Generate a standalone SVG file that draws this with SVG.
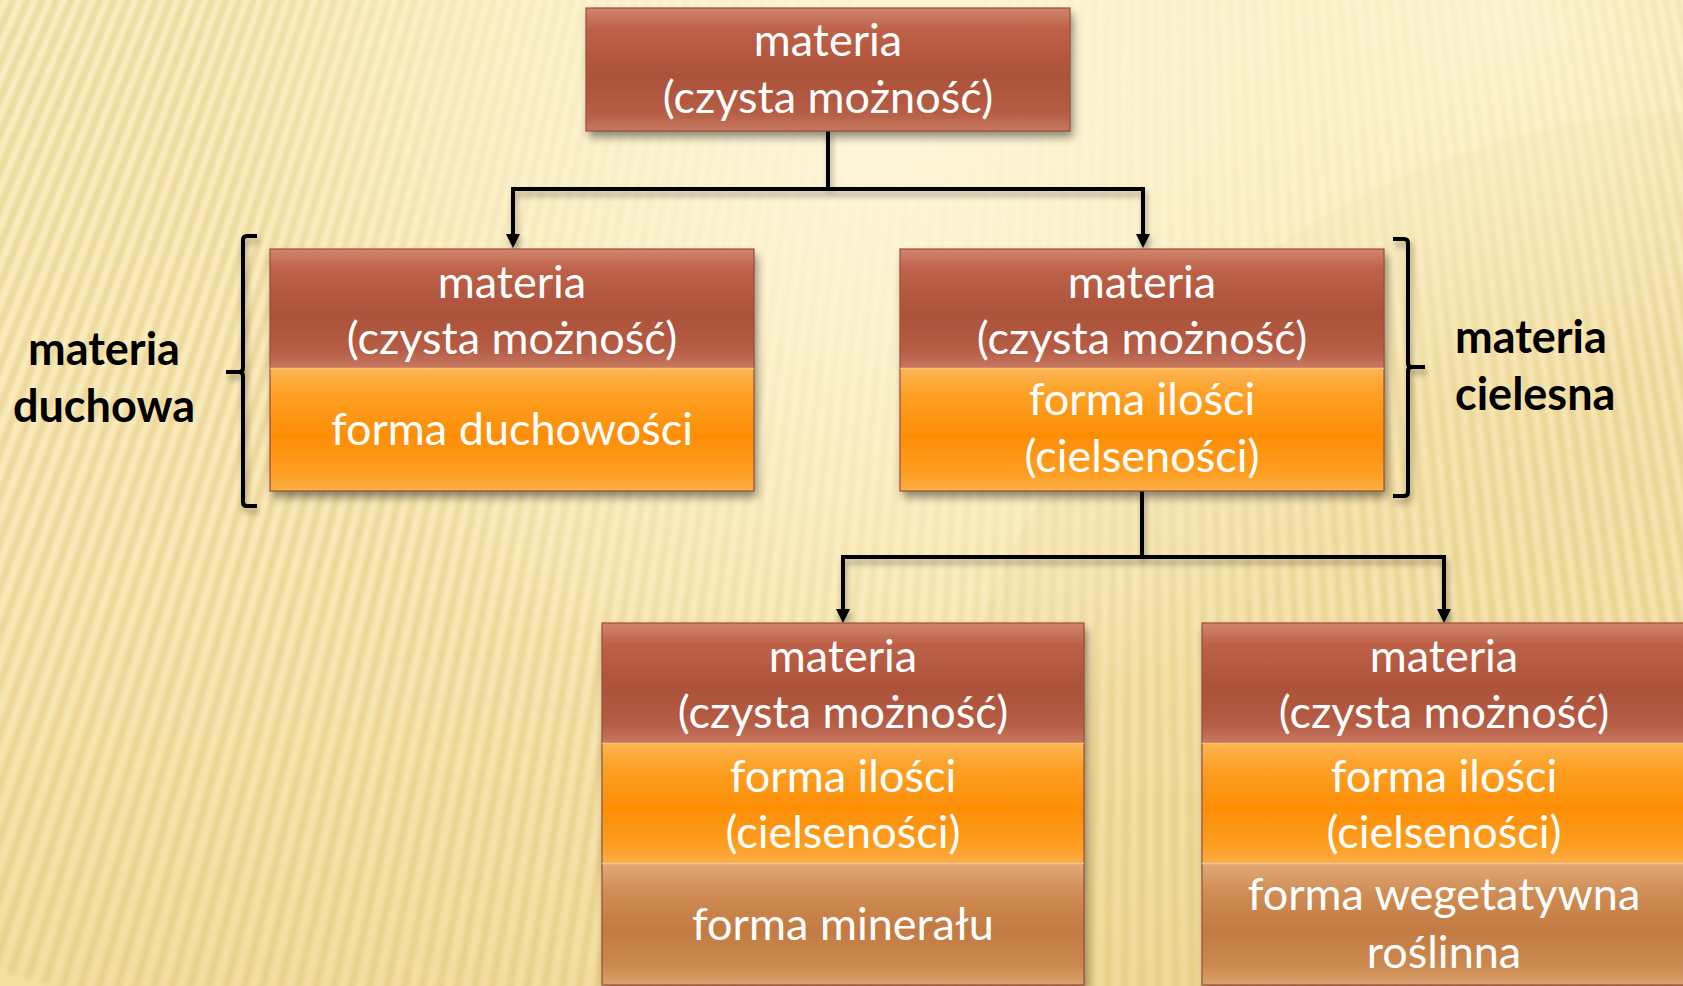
<svg xmlns="http://www.w3.org/2000/svg" xmlns:xlink="http://www.w3.org/1999/xlink" width="1683" height="986" viewBox="0 0 1683 986">
  <style>
    .lbl { font-family: Lato, "Open Sans", "Liberation Sans", sans-serif; font-size: 45px; fill: #ffffff; text-anchor: middle; }
    .side { font-family: Lato, "Open Sans", "Liberation Sans", sans-serif; font-size: 45px; font-weight: bold; fill: #000000; }
    .edge { fill: none; stroke: #000000; stroke-width: 4; }
    .brace { fill: none; stroke: #000000; stroke-width: 4; stroke-linejoin: round; stroke-linecap: butt; }
    .outline { fill: none; stroke: #9c4e39; stroke-width: 1.2; }
    .stripe { stroke: #dcbf72; stroke-width: 7; }
  </style>
  <defs>
    <!-- background -->
    <linearGradient id="bgBase" x1="0" y1="0" x2="0" y2="1">
      <stop offset="0" stop-color="#fdf1c6"/>
      <stop offset="0.6" stop-color="#faeab8"/>
      <stop offset="1" stop-color="#f4dea0"/>
    </linearGradient>
    <radialGradient id="glow" cx="880" cy="120" r="620" gradientUnits="userSpaceOnUse">
      <stop offset="0" stop-color="#fff9e0" stop-opacity="0.8"/>
      <stop offset="1" stop-color="#fff9e0" stop-opacity="0"/>
    </radialGradient>
    <radialGradient id="glowRight" cx="1500" cy="20" r="380" gradientUnits="userSpaceOnUse">
      <stop offset="0" stop-color="#fff7d8" stop-opacity="0.7"/>
      <stop offset="1" stop-color="#fff7d8" stop-opacity="0"/>
    </radialGradient>
    <radialGradient id="stripeFade" cx="950" cy="60" r="760" gradientUnits="userSpaceOnUse">
      <stop offset="0" stop-color="#ffffff" stop-opacity="0.2"/>
      <stop offset="0.6" stop-color="#ffffff" stop-opacity="0.6"/>
      <stop offset="1" stop-color="#ffffff" stop-opacity="1"/>
    </radialGradient>
    <mask id="stripeMask" maskUnits="userSpaceOnUse" x="0" y="0" width="1683" height="986">
      <rect width="1683" height="986" fill="url(#stripeFade)"/>
    </mask>
    <filter id="soft" x="-5%" y="-5%" width="110%" height="110%">
      <feGaussianBlur stdDeviation="2.2"/>
    </filter>

    <!-- fan of stripes built by doubling -->
    <g id="f0"><line class="stripe" x1="1150" y1="-2600" x2="1150" y2="1150"/></g>
    <g id="f1"><use xlink:href="#f0"/><use xlink:href="#f0" transform="rotate(0.27 1150 -2600)"/></g>
    <g id="f2"><use xlink:href="#f1"/><use xlink:href="#f1" transform="rotate(0.54 1150 -2600)"/></g>
    <g id="f3"><use xlink:href="#f2"/><use xlink:href="#f2" transform="rotate(1.08 1150 -2600)"/></g>
    <g id="f4"><use xlink:href="#f3"/><use xlink:href="#f3" transform="rotate(2.16 1150 -2600)"/></g>
    <g id="f5"><use xlink:href="#f4"/><use xlink:href="#f4" transform="rotate(4.32 1150 -2600)"/></g>
    <g id="f6"><use xlink:href="#f5"/><use xlink:href="#f5" transform="rotate(8.64 1150 -2600)"/></g>
    <g id="f7"><use xlink:href="#f6"/><use xlink:href="#f6" transform="rotate(17.28 1150 -2600)"/></g>
    <g id="f8"><use xlink:href="#f7"/><use xlink:href="#f7" transform="rotate(34.56 1150 -2600)"/></g>

    <!-- box fills -->
    <linearGradient id="gMaroon" x1="0" y1="0" x2="0" y2="1">
      <stop offset="0" stop-color="#d2856f"/>
      <stop offset="0.18" stop-color="#bd6148"/>
      <stop offset="0.55" stop-color="#ac523a"/>
      <stop offset="0.85" stop-color="#b65d45"/>
      <stop offset="1" stop-color="#c77862"/>
    </linearGradient>
    <linearGradient id="gOrange" x1="0" y1="0" x2="0" y2="1">
      <stop offset="0" stop-color="#fdb656"/>
      <stop offset="0.2" stop-color="#fda126"/>
      <stop offset="0.55" stop-color="#fd8e05"/>
      <stop offset="0.85" stop-color="#fd9e20"/>
      <stop offset="1" stop-color="#fdae45"/>
    </linearGradient>
    <linearGradient id="gTan" x1="0" y1="0" x2="0" y2="1">
      <stop offset="0" stop-color="#e2a977"/>
      <stop offset="0.25" stop-color="#cf8c53"/>
      <stop offset="0.55" stop-color="#c27b42"/>
      <stop offset="0.85" stop-color="#cb8a51"/>
      <stop offset="1" stop-color="#daa26e"/>
    </linearGradient>

    <filter id="shadow" x="-10%" y="-10%" width="125%" height="130%">
      <feDropShadow dx="3" dy="6" stdDeviation="5" flood-color="#000000" flood-opacity="0.45"/>
    </filter>
    <filter id="lineShadow" x="-10%" y="-10%" width="125%" height="130%">
      <feDropShadow dx="2" dy="5" stdDeviation="3" flood-color="#000000" flood-opacity="0.35"/>
    </filter>

    <marker id="arrow" markerUnits="userSpaceOnUse" markerWidth="14" markerHeight="14" refX="10" refY="7" orient="auto">
      <path d="M0,0 L14,7 L0,14 Z" fill="#000000"/>
    </marker>
  </defs>

  <!-- background -->
  <rect width="1683" height="986" fill="url(#bgBase)"/>
  <circle cx="1720" cy="900" r="790" fill="#e6c878" opacity="0.14"/>
  <g mask="url(#stripeMask)" filter="url(#soft)" opacity="0.48">
    <use xlink:href="#f8" transform="rotate(-32 1150 -2600)"/>
  </g>
  <rect width="1683" height="986" fill="url(#glow)"/>
  <rect width="1683" height="986" fill="url(#glowRight)"/>

  <!-- connectors -->
  <g id="connectors" filter="url(#lineShadow)">
    <path class="edge" d="M828,131 V189"/>
    <path class="edge" d="M828,189 H513 V244" marker-end="url(#arrow)"/>
    <path class="edge" d="M828,189 H1143 V244" marker-end="url(#arrow)"/>
    <path class="edge" d="M1142,491 V557"/>
    <path class="edge" d="M1142,557 H843 V619" marker-end="url(#arrow)"/>
    <path class="edge" d="M1142,557 H1444 V619" marker-end="url(#arrow)"/>
  </g>

  <!-- braces -->
  <g id="brace-left" filter="url(#lineShadow)">
    <path class="brace" d="M257,236 H247 Q243,236 243,240 V368 Q243,372 239,372 H226 M239,372 Q243,372 243,376 V502 Q243,506 247,506 H257"/>
  </g>
  <g id="brace-right" filter="url(#lineShadow)">
    <path class="brace" d="M1393,239 H1404 Q1408,239 1408,243 V363 Q1408,367 1412,367 H1425 M1412,367 Q1408,367 1408,371 V492 Q1408,496 1404,496 H1393"/>
  </g>

  <!-- side labels -->
  <g id="label-duchowa">
    <text class="side" x="104" y="365" text-anchor="middle">materia</text>
    <text class="side" x="104" y="422" text-anchor="middle">duchowa</text>
  </g>
  <g id="label-cielesna">
    <text class="side" x="1455" y="353">materia</text>
    <text class="side" x="1455" y="410">cielesna</text>
  </g>

  <!-- root node -->
  <g id="node-root">
    <g filter="url(#shadow)">
      <rect x="586" y="8" width="484" height="123" fill="url(#gMaroon)"/>
    </g>
    <rect class="outline" x="586" y="8" width="484" height="123"/>
    <text class="lbl" x="828" y="56">materia</text>
    <text class="lbl" x="828" y="113">(czysta możność)</text>
  </g>

  <!-- spiritual matter -->
  <g id="node-spiritual">
    <g filter="url(#shadow)">
      <rect x="270" y="249" width="484" height="119" fill="url(#gMaroon)"/>
      <rect x="270" y="368" width="484" height="123" fill="url(#gOrange)"/>
    </g>
    <rect class="outline" x="270" y="249" width="484" height="242"/>
    <line x1="270" y1="368.5" x2="754" y2="368.5" stroke="#fdc462" stroke-width="1.5"/>
    <text class="lbl" x="512" y="298">materia</text>
    <text class="lbl" x="512" y="354">(czysta możność)</text>
    <text class="lbl" x="512" y="445">forma duchowości</text>
  </g>

  <!-- bodily matter -->
  <g id="node-bodily">
    <g filter="url(#shadow)">
      <rect x="900" y="249" width="484" height="119" fill="url(#gMaroon)"/>
      <rect x="900" y="368" width="484" height="123" fill="url(#gOrange)"/>
    </g>
    <rect class="outline" x="900" y="249" width="484" height="242"/>
    <line x1="900" y1="368.5" x2="1384" y2="368.5" stroke="#fdc462" stroke-width="1.5"/>
    <text class="lbl" x="1142" y="298">materia</text>
    <text class="lbl" x="1142" y="354">(czysta możność)</text>
    <text class="lbl" x="1142" y="415">forma ilości</text>
    <text class="lbl" x="1142" y="472">(cielseności)</text>
  </g>

  <!-- mineral -->
  <g id="node-mineral">
    <g filter="url(#shadow)">
      <rect x="602" y="623" width="482" height="120" fill="url(#gMaroon)"/>
      <rect x="602" y="743" width="482" height="120" fill="url(#gOrange)"/>
      <rect x="602" y="863" width="482" height="122" fill="url(#gTan)"/>
    </g>
    <rect class="outline" x="602" y="623" width="482" height="362"/>
    <line x1="602" y1="743.5" x2="1084" y2="743.5" stroke="#fdc462" stroke-width="1.5"/>
    <line x1="602" y1="863.5" x2="1084" y2="863.5" stroke="#f2c79a" stroke-width="1.5"/>
    <text class="lbl" x="843" y="672">materia</text>
    <text class="lbl" x="843" y="728">(czysta możność)</text>
    <text class="lbl" x="843" y="792">forma ilości</text>
    <text class="lbl" x="843" y="848">(cielseności)</text>
    <text class="lbl" x="843" y="940">forma minerału</text>
  </g>

  <!-- vegetative -->
  <g id="node-vegetative">
    <g filter="url(#shadow)">
      <rect x="1202" y="623" width="484" height="120" fill="url(#gMaroon)"/>
      <rect x="1202" y="743" width="484" height="120" fill="url(#gOrange)"/>
      <rect x="1202" y="863" width="484" height="122" fill="url(#gTan)"/>
    </g>
    <rect class="outline" x="1202" y="623" width="484" height="362"/>
    <line x1="1202" y1="743.5" x2="1686" y2="743.5" stroke="#fdc462" stroke-width="1.5"/>
    <line x1="1202" y1="863.5" x2="1686" y2="863.5" stroke="#f2c79a" stroke-width="1.5"/>
    <text class="lbl" x="1444" y="672">materia</text>
    <text class="lbl" x="1444" y="728">(czysta możność)</text>
    <text class="lbl" x="1444" y="792">forma ilości</text>
    <text class="lbl" x="1444" y="848">(cielseności)</text>
    <text class="lbl" x="1444" y="910">forma wegetatywna</text>
    <text class="lbl" x="1444" y="968">roślinna</text>
  </g>
</svg>
